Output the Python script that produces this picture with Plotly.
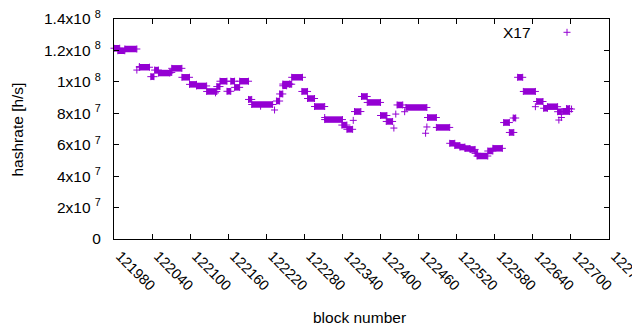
import plotly.graph_objects as go

# Step segments of the hashrate series: block range [start, end] at a constant value (h/s)
seg_start = [121980, 121986, 121997, 122020, 122038, 122044, 122050, 122068, 122071, 122087,
             122099, 122110, 122126, 122142, 122147, 122158, 122164, 122170, 122178, 122192,
             122197, 122236, 122241, 122246, 122246, 122257, 122260, 122276, 122285, 122296,
             122312, 122339, 122347, 122359, 122370, 122379, 122400, 122409, 122426, 122440,
             122474, 122488, 122509, 122517, 122525, 122533, 122541, 122549, 122552, 122569,
             122577, 122594, 122603, 122609, 122616, 122625, 122646, 122657, 122663, 122679,
             122687, 122693]
seg_end = [121989, 121997, 122016, 122036, 122043, 122050, 122068, 122071, 122087, 122099,
           122110, 122126, 122142, 122147, 122158, 122164, 122170, 122178, 122192, 122197,
           122230, 122241, 122246, 122252, 122257, 122260, 122277, 122285, 122296, 122312,
           122340, 122347, 122356, 122369, 122379, 122400, 122410, 122419, 122435, 122473,
           122488, 122509, 122517, 122525, 122533, 122541, 122549, 122553, 122569, 122577,
           122592, 122603, 122610, 122613, 122624, 122644, 122656, 122663, 122679, 122685,
           122698, 122698]
seg_value = [121.4e6, 119.8e6, 120.9e6, 109.3e6, 103.3e6, 107.5e6, 105.6e6, 106.0e6, 108.6e6, 102.9e6,
             98.4e6, 97.4e6, 93.9e6, 97.0e6, 100.4e6, 94.0e6, 100.4e6, 96.5e6, 100.4e6, 88.8e6,
             85.6e6, 87.8e6, 92.3e6, 97.5e6, 98.6e6, 98.5e6, 102.9e6, 93.9e6, 89.4e6, 84.3e6,
             76.0e6, 72.5e6, 69.8e6, 81.1e6, 90.7e6, 86.9e6, 78.6e6, 74.8e6, 85.3e6, 83.7e6,
             77.3e6, 71.0e6, 60.9e6, 59.5e6, 58.5e6, 57.6e6, 57.0e6, 54.5e6, 52.8e6, 56.0e6,
             57.7e6, 74.1e6, 67.8e6, 77.0e6, 102.9e6, 93.9e6, 87.5e6, 83.2e6, 84.2e6, 81.0e6,
             81.1e6, 83.0e6]

# Isolated single blocks
pt_block = [122016, 122020, 122140, 122211, 122233, 122312, 122357, 122421, 122424, 122438,
            122471, 122473, 122644, 122681, 122685, 122701]
pt_value = [107.5e6, 109.7e6, 93.0e6, 84.5e6, 82.1e6, 77.3e6, 75.5e6, 70.6e6, 79.5e6, 81.0e6,
            67.3e6, 71.3e6, 84.2e6, 75.7e6, 77.3e6, 82.7e6]

x_tick_vals = [121980, 122040, 122100, 122160, 122220, 122280, 122340, 122400, 122460,
               122520, 122580, 122640, 122700, 122760]
x_tick_text = [str(v) for v in x_tick_vals]
y_tick_vals = [0, 2e7, 4e7, 6e7, 8e7, 1e8, 1.2e8, 1.4e8]
y_tick_text = ["0", "2x10 <sup>7</sup>", "4x10 <sup>7</sup>", "6x10 <sup>7</sup>",
               "8x10 <sup>7</sup>", "1x10 <sup>8</sup>", "1.2x10 <sup>8</sup>", "1.4x10 <sup>8</sup>"]

COLOR = "#9400D3"
FONT = "Liberation Sans"
FS = 15.5
FSX = 14.5

OFF = 8  # page body margin
W, H = 640 - OFF, 330 - OFF
L, T = 114 - OFF, 19 - OFF
PW, PH = 495, 220
R, B = W - L - PW, H - T - PH

# segments as thick horizontal strokes
lx, ly = [], []
for s, e, v in zip(seg_start, seg_end, seg_value):
    lx += [s, e, None]
    ly += [v, v, None]

mx = list(seg_start) + list(seg_end) + list(pt_block)
my = list(seg_value) + list(seg_value) + list(pt_value)

fig = go.Figure()
fig.add_trace(go.Scatter(x=lx, y=ly, mode="lines", line=dict(color=COLOR, width=6.5),
                         connectgaps=False, showlegend=False, hoverinfo="skip", cliponaxis=False))
fig.add_trace(go.Scatter(x=mx, y=my, mode="markers", name="X17", showlegend=False,
                         marker=dict(symbol="cross-thin", size=5, color=COLOR,
                                     line=dict(color=COLOR, width=1)),
                         cliponaxis=False))

def px_to_paper(x, y):
    # page pixel -> paper coords
    return (x - OFF - L) / PW, (H - B - (y - OFF)) / PH

# legend (gnuplot style: text then sample)
ax_, ay_ = px_to_paper(533, 32.3)
fig.add_annotation(text="X17", xref="paper", yref="paper", x=ax_, y=ay_,
                   xanchor="right", yanchor="middle", showarrow=False,
                   font=dict(family=FONT, size=FS, color="#000000"))
cx, cy = px_to_paper(567, 32.3)
hx, hy = 3.5 / PW, 3.5 / PH
fig.add_shape(type="line", xref="paper", yref="paper", x0=cx - hx, x1=cx + hx, y0=cy, y1=cy,
              line=dict(color=COLOR, width=1))
fig.add_shape(type="line", xref="paper", yref="paper", x0=cx, x1=cx, y0=cy - hy, y1=cy + hy,
              line=dict(color=COLOR, width=1))

# axis titles
tx, ty = px_to_paper(359, 317)
fig.add_annotation(text="block number", xref="paper", yref="paper", x=tx, y=ty,
                   xanchor="center", yanchor="middle", showarrow=False,
                   font=dict(family=FONT, size=FS, color="black"))
tx, ty = px_to_paper(16.5, 130)
fig.add_annotation(text="hashrate [h/s]", xref="paper", yref="paper", x=tx, y=ty, textangle=-90,
                   xanchor="center", yanchor="middle", showarrow=False,
                   font=dict(family=FONT, size=FS, color="black"))

axis_common = dict(showline=True, linecolor="black", linewidth=1, mirror="ticks",
                   ticks="inside", ticklen=5, tickwidth=1, tickcolor="black",
                   showgrid=False, zeroline=False, automargin=False,
                   ticklabeloverflow="allow")

fig.update_xaxes(range=[121980, 122760], tickvals=x_tick_vals, ticktext=x_tick_text,
                 tickangle=45, ticklabelstandoff=2, ticklabelshift=6,
                 tickfont=dict(family=FONT, size=FSX, color="black"), **axis_common)
fig.update_yaxes(range=[0, 1.4e8], tickvals=y_tick_vals, ticktext=y_tick_text,
                 ticklabelstandoff=9,
                 tickfont=dict(family=FONT, size=FS, color="black"), **axis_common)

fig.update_layout(width=W, height=H, autosize=False,
                  margin=dict(l=L, r=R, t=T, b=B),
                  paper_bgcolor="white", plot_bgcolor="white",
                  font=dict(family=FONT, size=FS, color="black"))

fig.write_html("out.html")
